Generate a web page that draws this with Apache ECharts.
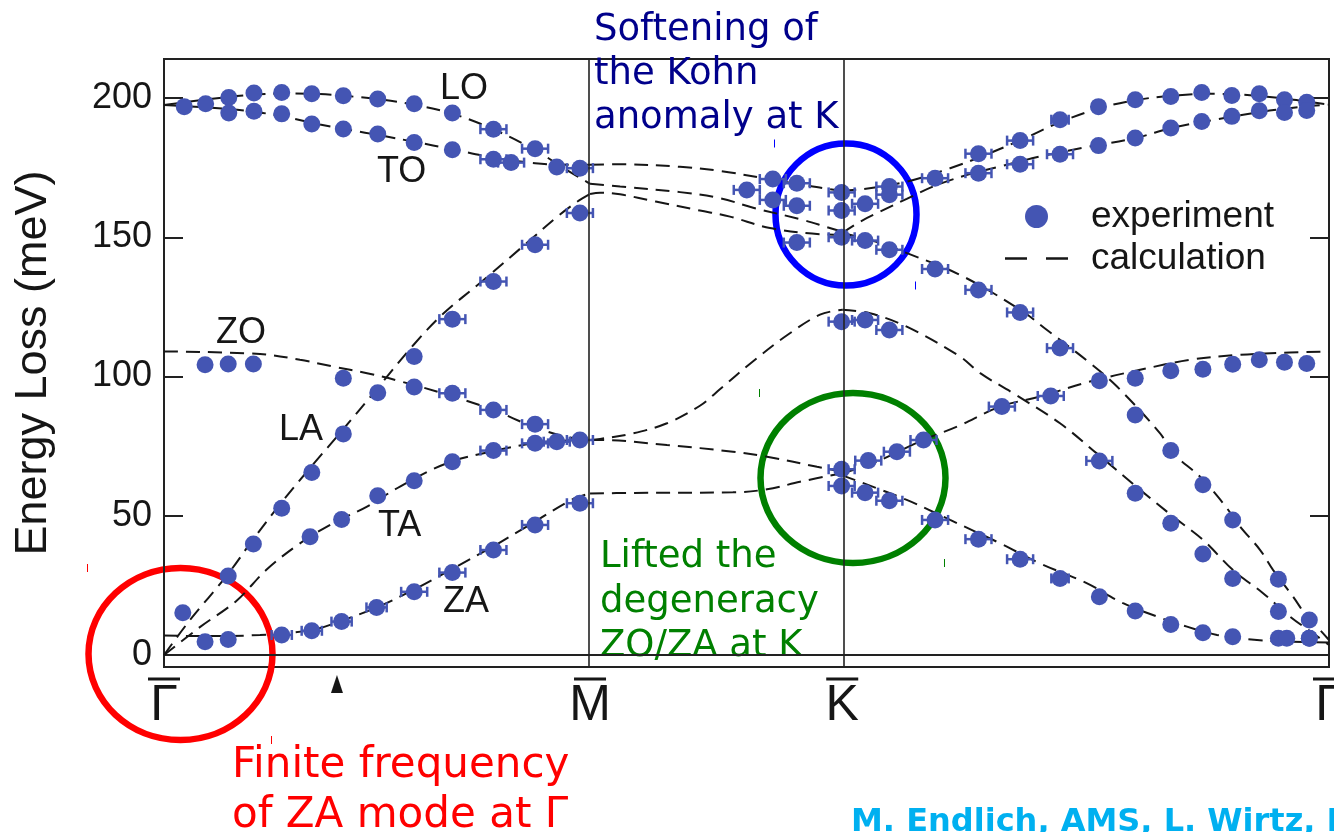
<!DOCTYPE html>
<html>
<head>
<meta charset="utf-8">
<script src="https://cdn.jsdelivr.net/npm/echarts@6/dist/echarts.min.js"></script>
<style>
  html, body { margin: 0; padding: 0; background: #ffffff; }
  #chart { width: 1334px; height: 832px; }
</style>
</head>
<body>
<div id="chart"></div>
<script>
// High-symmetry path positions (Å⁻¹ along Γ–M–K–Γ)
const M_POS = 1.473;
const K_POS = 2.345;
const G_END = 4.028;
const pathTicks = [0, M_POS, K_POS, G_END];
const pathLabels = ['Γ', 'M', 'K', 'Γ'];
const energyTicks = [0, 50, 100, 150, 200];
const markerQ = 0.598;

// Experimental points: [q, energy (meV), half width of q error bar]
const expLO = [
  [0.070,196.9,0],[0.144,197.9,0],[0.224,200.2,0],[0.311,201.8,0],[0.407,202.0,0],[0.511,201.5,0],
  [0.620,200.8,0],[0.739,199.6,0],[0.865,197.9,0],[0.997,194.6,0],[1.139,188.8,0.045],[1.283,181.8,0.045],
  [2.015,167.0,0.045],[2.105,170.9,0.045],[2.188,169.4,0.045],[2.343,166.1,0.045],[2.508,168.2,0.045],
  [2.666,171.2,0.045],[2.816,180.0,0.045],[2.960,184.7,0.045],[3.098,192.2,0.03],[3.231,196.9,0],
  [3.358,199.4,0],[3.481,200.5,0],[3.588,202.0,0],[3.692,200.9,0],[3.787,201.5,0],[3.874,199.4,0],[3.951,198.5,0]
];
const expTO = [
  [0.224,194.6,0],[0.311,195.2,0],[0.407,194.3,0],[0.511,190.7,0],[0.620,188.9,0],[0.739,187.1,0],
  [0.865,184.0,0],[0.997,181.4,0],[1.139,178.0,0.045],[1.200,176.8,0.045],[1.358,175.2,0],[1.438,174.8,0.045],
  [2.105,163.4,0.045],[2.188,161.3,0.045],[2.343,159.6,0.045],[2.424,162.0,0.045],[2.508,165.3,0.045],
  [2.816,173.0,0.045],[2.960,176.2,0.045],[3.098,179.8,0.045],[3.231,182.9,0],[3.358,185.6,0],
  [3.481,189.2,0],[3.588,191.6,0],[3.692,193.4,0],[3.787,195.4,0],[3.874,194.8,0],[3.951,195.5,0]
];
const expLA = [
  [0.065,15.2,0],[0.222,28.4,0],[0.309,39.9,0],[0.407,52.7,0],[0.511,65.5,0],[0.620,79.4,0],
  [0.739,94.2,0],[0.865,107.2,0],[0.997,120.6,0.045],[1.139,134.1,0.045],[1.283,147.3,0.045],[1.438,158.7,0.045],
  [2.188,148.1,0.045],[2.343,150.0,0.045],[2.424,148.8,0.045],[2.508,145.5,0.045],[2.666,138.6,0.045],
  [2.816,131.1,0.045],[2.960,123.0,0.045],[3.098,110.2,0.045],[3.358,86.2,0],[3.481,73.4,0],
  [3.592,61.1,0],[3.695,48.5,0],[3.853,27.2,0],[3.960,12.6,0]
];
const expTA = [
  [0.505,42.5,0],[0.614,48.7,0],[0.739,57.2,0],[0.865,62.6,0],[0.997,69.4,0],[1.139,73.4,0.045],
  [1.283,76.0,0.045],[1.358,76.6,0.045],
  [2.343,119.7,0.045],[2.424,120.3,0.045],[2.508,116.7,0.045],[3.234,69.7,0.045],[3.358,58.1,0],
  [3.481,47.3,0],[3.592,36.3,0],[3.695,27.5,0],[3.853,15.6,0],[3.960,6.0,0]
];
const expZO = [
  [0.142,104.2,0],[0.222,104.5,0],[0.309,104.5,0],[0.620,99.4,0],[0.865,96.2,0],[0.997,94.0,0.045],
  [1.139,88.0,0.045],[1.283,82.9,0.045],[1.438,77.2,0.045],
  [2.343,66.7,0.045],[2.435,69.8,0.045],[2.534,73.0,0.045],[2.626,77.2,0.045],[2.897,89.2,0.045],
  [3.066,93.0,0.045],[3.234,98.5,0.02],[3.358,99.4,0],[3.481,102.1,0],[3.592,102.6,0],[3.695,104.4,0],
  [3.787,106.0,0],[3.874,105.1,0],[3.951,104.7,0]
];
const expZA = [
  [0.142,4.8,0],[0.222,5.6,0],[0.407,7.2,0.035],[0.511,8.7,0.035],[0.614,12.0,0.035],[0.735,17.1,0.035],
  [0.865,22.7,0.045],[0.997,29.6,0.045],[1.139,37.7,0.045],[1.283,46.7,0.045],[1.438,54.5,0.045],
  [2.343,60.7,0.045],[2.424,58.3,0.045],[2.508,55.4,0.045],[2.666,48.5,0.045],[2.816,41.6,0.045],
  [2.960,34.4,0.045],[3.098,27.5,0.03],[3.234,20.9,0],[3.358,15.8,0],[3.481,11.0,0],[3.592,8.0,0],
  [3.695,6.6,0],[3.853,6.0,0],[3.882,6.0,0],[3.960,6.0,0]
];

// Calculated dispersion, one sub-array per path segment
const calcTO = [
  [[0,197.5],[0.228,196.0],[0.332,194.8],[0.436,192.8],[0.539,190.5],[0.643,188.5],[0.747,186.6],
   [0.864,184.3],[0.996,181.6],[1.138,178.6],[1.283,176.6],[1.387,176.0],[1.473,176.0]],
  [[1.473,176.0],[1.577,176.2],[1.784,175.3],[1.923,173.8],[2.095,170.8],[2.199,169.0],[2.293,167.4],[2.345,166.8]],
  [[2.345,166.8],[2.417,167.3],[2.569,170.0],[2.718,174.8],[2.815,178.5],[2.960,184.8],[3.098,191.3],
   [3.230,196.2],[3.358,199.2],[3.482,200.8],[3.617,201.5],[3.755,201.0],[3.873,199.8],[3.952,198.7],[4.028,197.6]]
];
const calcLO = [
  [[0,197.5],[0.159,199.6],[0.297,201.1],[0.436,201.6],[0.539,201.4],[0.643,200.6],[0.747,199.5],
   [0.864,197.6],[0.996,194.4],[1.138,188.8],[1.283,181.3],[1.387,174.5],[1.473,169.2]],
  [[1.473,169.2],[1.577,168.2],[1.784,166.2],[1.923,164.0],[2.037,160.6],[2.210,156.2],[2.293,153.6],[2.345,152.0]],
  [[2.345,151.5],[2.407,155.6],[2.476,159.2],[2.568,163.8],[2.666,168.5],[2.777,172.4],[2.891,175.4],
   [3.029,179.0],[3.202,182.6],[3.358,185.6],[3.489,189.4],[3.617,191.9],[3.800,195.1],[3.952,197.0],[4.028,197.6]]
];
const calcLA = [
  [[0,0],[0.090,12.6],[0.217,28.5],[0.308,41.5],[0.408,55.0],[0.512,68.0],[0.619,81.0],[0.740,96.0],
   [0.864,111.5],[0.965,122.5],[1.103,134.5],[1.255,148.0],[1.359,157.3],[1.425,162.5],[1.473,165.5]],
  [[1.473,165.5],[1.508,166.0],[1.577,165.4],[1.700,162.8],[1.853,159.6],[1.957,157.4],[2.095,153.3],[2.268,151.1],[2.345,150.9]],
  [[2.345,151.5],[2.476,148.0],[2.569,144.3],[2.752,136.5],[2.960,124.0],[3.053,116.7],[3.202,104.8],
   [3.295,96.4],[3.444,79.6],[3.489,72.4],[3.582,64.0],[3.662,54.5],[3.721,46.1],[3.790,37.7],
   [3.835,30.5],[3.904,20.9],[3.952,13.8],[3.997,9.0],[4.028,5.4]]
];
const calcTA = [
  [[0,0],[0.124,10.0],[0.251,19.5],[0.353,30.5],[0.470,40.1],[0.584,47.3],[0.702,53.3],[0.816,60.5],
   [0.979,68.9],[1.138,73.2],[1.276,76.0],[1.414,77.1],[1.473,77.2]],
  [[1.473,77.2],[1.508,77.6],[1.622,79.6],[1.739,83.2],[1.853,89.5],[1.923,95.5],[2.037,105.5],
   [2.154,114.8],[2.268,122.2],[2.345,124.0]],
  [[2.345,124.0],[2.441,122.7],[2.568,117.9],[2.752,107.2],[2.822,101.2],[2.936,94.0],[3.098,83.2],
   [3.225,72.4],[3.375,59.3],[3.489,49.7],[3.593,41.3],[3.696,30.5],[3.800,22.2],[3.893,13.8],[3.973,7.8],[4.028,3.6]]
];
const calcZO = [
  [[0,109.0],[0.332,108.1],[0.470,106.0],[0.584,103.6],[0.702,101.2],[0.816,98.3],[0.979,93.5],
   [1.138,88.0],[1.276,82.0],[1.387,78.4],[1.473,77.2]],
  [[1.473,77.2],[1.508,77.2],[1.739,75.4],[1.967,73.0],[2.085,71.2],[2.258,67.6],[2.345,65.8]],
  [[2.345,65.3],[2.452,68.9],[2.624,77.2],[2.742,82.0],[2.891,89.2],[3.029,92.8],[3.202,98.2],
   [3.375,102.4],[3.548,106.0],[3.721,107.8],[3.893,108.6],[4.028,108.9]]
];
const calcZA = [
  [[0,7.0],[0.124,6.8],[0.332,7.2],[0.512,9.0],[0.619,12.5],[0.740,17.3],[0.864,23.5],[0.989,30.5],
   [1.138,39.0],[1.276,47.5],[1.414,56.0],[1.473,58.0]],
  [[1.473,58.0],[1.622,58.2],[1.967,58.4],[2.085,59.5],[2.199,62.2],[2.345,65.3]],
  [[2.345,64.5],[2.568,55.7],[2.718,48.5],[2.891,40.1],[3.029,32.9],[3.190,25.8],[3.316,18.6],
   [3.434,13.8],[3.537,10.2],[3.641,7.2],[3.779,5.4],[3.883,4.8],[4.028,4.5]]
];

// Branch labels
const branchLabels = [
  { text: 'LO', x: 440, y: 89 },
  { text: 'TO', x: 377, y: 172 },
  { text: 'ZO', x: 216, y: 333 },
  { text: 'LA', x: 279, y: 430 },
  { text: 'TA', x: 378, y: 526 },
  { text: 'ZA', x: 443, y: 602 }
];

const BLUE = '#4455b3';
const INK = '#161616';
const SANS = "'Liberation Sans', Arial, sans-serif";
const DEJAVU = "'DejaVu Sans', sans-serif";

const expAll = [].concat(expLO, expTO, expLA, expTA, expZO, expZA);
const calcBranches = [calcTO, calcLO, calcLA, calcTA, calcZO, calcZA];

function renderErrorBar(params, api) {
  const x = api.value(0), y = api.value(1), dx = api.value(2);
  const a = api.coord([x - dx, y]);
  const b = api.coord([x + dx, y]);
  const h = 5;
  const st = { stroke: BLUE, lineWidth: 2.5 };
  return {
    type: 'group',
    children: [
      { type: 'line', shape: { x1: a[0], y1: a[1], x2: b[0], y2: b[1] }, style: st },
      { type: 'line', shape: { x1: a[0], y1: a[1] - h, x2: a[0], y2: a[1] + h }, style: st },
      { type: 'line', shape: { x1: b[0], y1: b[1] - h, x2: b[0], y2: b[1] + h }, style: st }
    ]
  };
}

const series = [];
calcBranches.forEach(branch => {
  branch.forEach(seg => {
    series.push({
      type: 'line',
      name: 'calculation',
      data: seg,
      smooth: 0.35,
      symbol: 'none',
      showSymbol: false,
      silent: true,
      z: 2,
      lineStyle: { color: INK, width: 2, type: [14, 8] }
    });
  });
});
series.push({
  type: 'custom',
  name: 'errors',
  renderItem: renderErrorBar,
  data: expAll.filter(p => p[2] > 0),
  encode: { x: 0, y: 1 },
  silent: true,
  z: 3
});
series.push({
  type: 'scatter',
  name: 'experiment',
  data: expAll.map(p => [p[0], p[1]]),
  symbol: 'circle',
  symbolSize: 17,
  itemStyle: { color: BLUE, opacity: 1 },
  silent: true,
  z: 4,
  markLine: {
    silent: true,
    symbol: 'none',
    label: { show: false },
    lineStyle: { color: '#222', type: 'solid', width: 1.6 },
    data: [{ xAxis: M_POS }, { xAxis: K_POS }]
  }
});

const chart = echarts.init(document.getElementById('chart'), null, { renderer: 'canvas' });

const option = {
  animation: false,
  backgroundColor: '#ffffff',
  grid: {
    left: 164, right: 5, top: 59, bottom: 165,
    outerBoundsMode: 'none',
    containLabel: false,
    show: true, borderColor: '#222', borderWidth: 2, backgroundColor: 'transparent'
  },
  legend: {
    orient: 'vertical',
    left: 1005,
    top: 198,
    padding: 0,
    itemWidth: 63,
    itemHeight: 23,
    itemGap: 5,
    symbolKeepAspect: true,
    selectedMode: false,
    data: [
      { name: 'experiment', icon: 'circle', itemStyle: { color: BLUE } },
      { name: 'calculation', icon: 'path://M0,0h22v2.5h-22z M41,0h22v2.5h-22z', itemStyle: { color: INK, borderWidth: 0 } }
    ],
    textStyle: { fontSize: 37, fontFamily: SANS, color: INK, padding: [0, 0, 0, 18] }
  },
  xAxis: {
    type: 'value',
    min: 0,
    max: G_END,
    axisLine: { show: true, lineStyle: { color: '#222', width: 2 } },
    axisTick: { show: false },
    splitLine: { show: false },
    axisLabel: {
      customValues: pathTicks,
      formatter: v => {
        let best = 0;
        pathTicks.forEach((t, i) => { if (Math.abs(t - v) < Math.abs(pathTicks[best] - v)) best = i; });
        return pathLabels[best];
      },
      fontSize: 50,
      fontFamily: "'Liberation Sans Narrow', 'Liberation Sans', Arial, sans-serif",
      color: INK,
      margin: 14
    }
  },
  yAxis: [
    {
      type: 'value',
      position: 'left',
      min: -4.3,
      max: 214,
      name: 'Energy Loss (meV)',
      nameLocation: 'middle',
      nameGap: 108,
      nameTextStyle: { fontSize: 45, fontFamily: SANS, color: INK },
      axisLine: { show: true, lineStyle: { color: '#222', width: 2 } },
      axisTick: { show: true, inside: true, length: 19, customValues: energyTicks, lineStyle: { color: '#222', width: 2 } },
      axisLabel: { customValues: energyTicks, fontSize: 36, fontFamily: SANS, color: INK, margin: 12 },
      splitLine: { show: false }
    },
    {
      type: 'value',
      position: 'right',
      min: -4.3,
      max: 214,
      axisLine: { show: true, lineStyle: { color: '#222', width: 2 } },
      axisTick: { show: true, inside: true, length: 19, customValues: energyTicks, lineStyle: { color: '#222', width: 2 } },
      axisLabel: { show: false },
      splitLine: { show: false }
    }
  ],
  series: series
};

chart.setOption(option);

// Annotation layer: overbars on path labels, q marker, highlighted regions and notes
const axisBottom = chart.convertToPixel({ yAxisIndex: 0 }, -4.3);
const graphics = [];
pathTicks.forEach(t => {
  const cx = chart.convertToPixel({ xAxisIndex: 0 }, t);
  graphics.push({
    type: 'line', silent: true,
    shape: { x1: cx - 16, y1: axisBottom + 12, x2: cx + 16, y2: axisBottom + 12 },
    style: { stroke: INK, lineWidth: 3 }
  });
});
const mx = chart.convertToPixel({ xAxisIndex: 0 }, markerQ);
graphics.push({
  type: 'polygon', silent: true,
  shape: { points: [[mx, axisBottom + 8], [mx - 6, axisBottom + 26], [mx + 6, axisBottom + 26]] },
  style: { fill: INK }
});

branchLabels.forEach(b => {
  graphics.push({
    type: 'text', silent: true, x: b.x, y: b.y,
    style: { text: b.text, font: '36px ' + SANS, fill: INK, verticalAlign: 'middle', align: 'left' }
  });
});

// Highlight rings
const rings = [
  { cx: 180.5, cy: 654, rx: 92, ry: 86, color: '#ff0000' },
  { cx: 846, cy: 214.5, rx: 70.5, ry: 71, color: '#0000ff' },
  { cx: 853, cy: 478, rx: 92.5, ry: 85, color: '#008000' }
];
rings.forEach(r => {
  graphics.push({
    type: 'ellipse', silent: true,
    shape: { cx: r.cx, cy: r.cy, rx: r.rx, ry: r.ry },
    style: { fill: 'none', stroke: r.color, lineWidth: 6.5 }
  });
  // small corner marks of the ring frames
  graphics.push({
    type: 'line', silent: true,
    shape: { x1: r.cx - r.rx - 1, y1: r.cy - r.ry - 4, x2: r.cx - r.rx - 1, y2: r.cy - r.ry + 4 },
    style: { stroke: r.color, lineWidth: 1 }
  });
  graphics.push({
    type: 'line', silent: true,
    shape: { x1: r.cx + r.rx - 1, y1: r.cy + r.ry - 4, x2: r.cx + r.rx - 1, y2: r.cy + r.ry + 4 },
    style: { stroke: r.color, lineWidth: 1 }
  });
});

const notes = [
  { text: 'Softening of\nthe Kohn\nanomaly at K', x: 594, y: 8, size: 37, lh: 44, color: '#00008b', weight: 'normal' },
  { text: 'Lifted the\ndegeneracy\nZO/ZA at K', x: 600, y: 535, size: 37, lh: 44.7, color: '#008000', weight: 'normal' },
  { text: 'Finite frequency\nof ZA mode at Γ', x: 232, y: 741, size: 42, lh: 50, color: '#ff0000', weight: 'normal' },
  { text: 'M. Endlich, AMS, L. Wirtz, I', x: 851, y: 807, size: 32, lh: 32, color: '#00b0f0', weight: 'bold' }
];
notes.forEach(n => {
  graphics.push({
    type: 'text', silent: true, x: n.x, y: n.y,
    style: {
      text: n.text, fontFamily: DEJAVU, fontSize: n.size, fontWeight: n.weight,
      lineHeight: n.lh, fill: n.color, verticalAlign: 'top', align: 'left'
    }
  });
});

chart.setOption({ graphic: graphics });
</script>
</body>
</html>
